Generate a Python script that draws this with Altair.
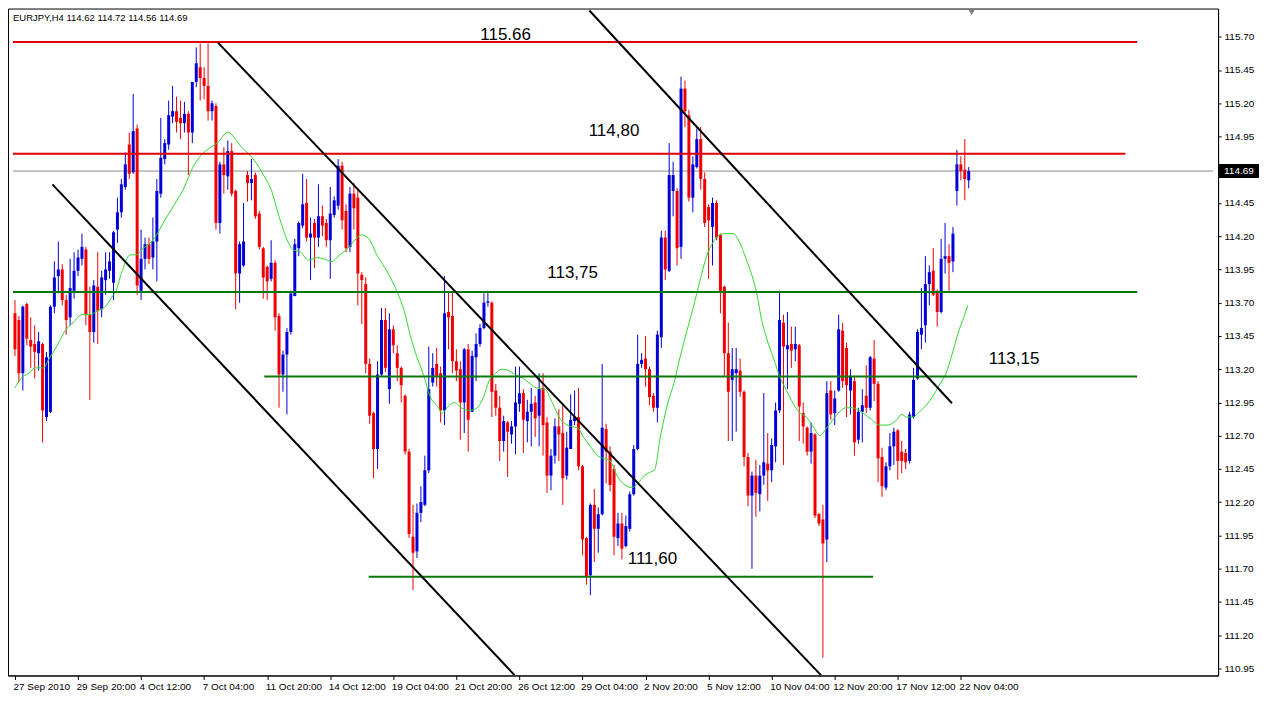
import altair as alt
import pandas as pd

# ---------------- data ----------------
opens = [
    113.62, 113.57, 113.17, 113.69, 113.42, 113.39, 113.32, 113.39, 112.84, 112.88,
    113.67, 113.90, 113.95, 113.72, 113.59, 113.79, 113.94, 114.03, 114.10, 113.61,
    113.48, 113.82, 113.65, 113.87, 113.94, 113.85, 114.25, 114.38, 114.57, 114.89,
    114.68, 115.01, 113.79, 114.03, 114.14, 114.04, 114.16, 114.52, 114.78, 114.89,
    115.10, 115.14, 115.09, 115.05, 115.12, 114.98, 115.36, 115.47, 115.39, 115.33,
    115.14, 115.18, 114.30, 114.74, 114.65, 114.84, 114.54, 113.92, 113.98, 114.66,
    114.60, 114.66, 114.37, 114.11, 113.97, 113.88, 114.00, 113.60, 113.16, 113.31,
    113.48, 113.75, 114.11, 114.28, 114.45, 114.19, 114.30, 114.19, 114.35, 114.30,
    114.17, 114.36, 114.43, 114.73, 114.39, 114.12, 114.52, 114.49, 113.91, 113.84,
    113.24, 112.87, 112.60, 113.16, 113.57, 113.05, 113.50, 113.32, 113.21, 113.00,
    112.58, 111.94, 111.83, 112.12, 112.18, 112.44, 113.10, 113.24, 113.17, 112.89,
    113.63, 113.60, 113.26, 113.20, 112.95, 113.35, 112.88, 113.29, 113.39, 113.51,
    113.70, 113.70, 113.04, 112.91, 112.66, 112.80, 112.71, 112.77, 112.94, 113.02,
    112.81, 112.88, 112.95, 112.85, 113.06, 112.80, 112.40, 112.55, 112.77, 112.72,
    112.40, 112.60, 112.81, 112.84, 112.47, 111.93, 111.65, 112.18, 112.00, 112.11,
    112.75, 112.58, 112.45, 111.93, 112.04, 111.87, 112.00, 112.26, 112.60, 113.24,
    113.28, 113.20, 113.00, 112.91, 113.44, 114.19, 113.94, 114.54, 114.54, 114.12,
    115.31, 115.11, 114.49, 114.72, 114.93, 114.63, 114.42, 114.27, 114.45, 114.21,
    113.82, 113.32, 113.12, 113.17, 113.19, 113.03, 112.54, 112.25, 112.40, 112.26,
    112.40, 112.49, 112.44, 112.62, 112.89, 113.55, 113.35, 113.39, 113.35, 113.38,
    112.87, 112.76, 112.58, 112.71, 112.11, 112.07, 111.92, 113.04, 112.87, 113.04,
    113.49, 113.36, 113.04, 113.11, 112.67, 112.88, 113.00, 112.91, 113.28, 113.09,
    112.54, 112.31, 112.47, 112.62, 112.74, 112.58, 112.57, 112.51, 112.84, 113.13,
    113.46, 113.53, 113.84, 113.94, 113.79, 113.63, 114.03, 114.05, 114.01, 114.54,
    114.74, 114.70, 114.62,
]
highs = [
    113.72, 113.60, 113.68, 113.70, 113.59, 113.53, 113.48, 113.40, 113.33, 113.68,
    114.01, 114.16, 113.99, 113.76, 114.03, 114.08, 114.10, 114.22, 114.12, 113.82,
    113.87, 114.08, 113.94, 114.08, 114.08, 114.24, 114.49, 114.63, 114.83, 114.98,
    115.27, 115.04, 114.25, 114.19, 114.19, 114.34, 114.63, 115.09, 114.93, 115.22,
    115.33, 115.25, 115.22, 115.21, 115.14, 115.36, 115.62, 115.65, 115.47, 115.65,
    115.22, 115.20, 114.76, 114.87, 114.92, 114.90, 114.55, 114.16, 114.45, 114.69,
    114.78, 114.68, 114.39, 114.12, 113.98, 114.17, 114.02, 113.62, 113.34, 113.51,
    113.79, 114.18, 114.31, 114.67, 114.63, 114.34, 114.33, 114.59, 114.43, 114.33,
    114.57, 114.50, 114.78, 114.76, 114.44, 114.57, 114.60, 114.56, 113.93, 113.89,
    113.28, 112.88, 113.26, 113.66, 113.66, 113.62, 113.53, 113.38, 113.22, 113.01,
    112.60, 112.18, 112.19, 112.32, 112.55, 113.37, 113.32, 113.36, 113.22, 113.90,
    113.78, 113.78, 113.35, 113.26, 113.36, 113.39, 113.34, 113.47, 113.54, 113.77,
    113.79, 113.71, 113.09, 113.00, 112.85, 112.81, 112.81, 113.22, 113.22, 113.05,
    112.97, 113.06, 113.00, 113.17, 113.17, 112.84, 112.60, 112.83, 112.90, 112.94,
    112.73, 113.01, 113.04, 113.06, 112.48, 111.94, 112.19, 112.30, 112.16, 113.24,
    112.79, 112.62, 112.48, 112.12, 112.12, 112.10, 112.28, 112.63, 113.46, 113.32,
    113.45, 113.22, 113.02, 113.49, 114.24, 114.24, 114.90, 114.76, 114.56, 115.40,
    115.37, 115.15, 114.80, 115.01, 115.02, 114.68, 114.44, 114.49, 114.47, 114.22,
    113.83, 113.55, 113.36, 113.36, 113.28, 113.04, 112.57, 112.43, 112.52, 112.48,
    113.02, 112.72, 112.68, 112.95, 113.79, 113.61, 113.63, 113.52, 113.52, 113.39,
    112.95, 112.77, 112.80, 112.72, 112.12, 112.18, 113.11, 113.11, 113.04, 113.61,
    113.55, 113.40, 113.20, 113.14, 112.91, 113.05, 113.23, 113.30, 113.42, 113.11,
    112.61, 112.50, 112.72, 112.76, 112.75, 112.66, 112.60, 112.88, 113.21, 113.50,
    113.81, 114.05, 113.98, 114.11, 113.80, 114.18, 114.30, 114.14, 114.27, 114.85,
    114.80, 114.93, 114.72,
]
lows = [
    113.30, 113.10, 113.04, 113.38, 113.21, 113.13, 113.19, 112.65, 112.81, 112.87,
    113.62, 113.77, 113.68, 113.46, 113.53, 113.73, 113.90, 113.98, 113.53, 112.97,
    113.40, 113.39, 113.59, 113.76, 113.88, 113.72, 114.15, 114.34, 114.55, 114.63,
    114.67, 113.76, 113.72, 113.95, 113.99, 113.95, 113.86, 114.49, 114.74, 114.85,
    115.05, 114.98, 114.93, 114.98, 114.66, 114.90, 115.32, 115.22, 115.23, 115.07,
    115.07, 114.25, 114.22, 114.52, 114.55, 114.50, 113.65, 113.70, 113.97, 114.46,
    114.47, 114.33, 114.10, 113.73, 113.72, 113.86, 113.49, 112.91, 113.03, 112.86,
    113.46, 113.75, 114.05, 114.26, 114.16, 113.87, 113.96, 114.12, 114.20, 114.12,
    113.88, 114.34, 114.40, 114.25, 114.08, 114.08, 114.25, 113.68, 113.54, 113.17,
    112.79, 112.38, 112.45, 113.15, 113.18, 112.94, 113.32, 113.11, 112.95, 112.56,
    111.93, 111.54, 111.78, 112.05, 112.17, 112.42, 113.07, 113.07, 112.80, 112.78,
    113.35, 113.17, 113.11, 112.67, 112.72, 112.58, 112.88, 113.11, 113.37, 113.50,
    113.67, 112.84, 112.85, 112.51, 112.58, 112.39, 112.64, 112.56, 112.88, 112.57,
    112.65, 112.62, 112.69, 112.62, 112.55, 112.27, 112.29, 112.49, 112.51, 112.18,
    112.37, 112.60, 112.78, 112.44, 111.80, 111.58, 111.50, 111.75, 111.82, 112.10,
    112.34, 112.28, 111.80, 111.87, 111.77, 111.86, 111.98, 112.25, 112.59, 113.21,
    113.07, 112.93, 112.88, 112.80, 113.36, 113.87, 113.93, 114.35, 113.98, 114.03,
    115.02, 114.46, 114.38, 114.71, 114.55, 114.27, 113.88, 113.98, 114.17, 113.62,
    113.15, 112.66, 112.66, 112.73, 112.99, 112.47, 112.17, 111.70, 112.09, 112.13,
    112.33, 112.21, 112.35, 112.50, 112.87, 112.48, 113.05, 113.21, 113.26, 112.66,
    112.64, 112.55, 112.49, 112.08, 112.02, 111.03, 111.75, 112.82, 112.78, 113.03,
    113.06, 112.84, 112.86, 112.55, 112.64, 112.65, 112.87, 112.89, 112.96, 112.35,
    112.24, 112.29, 112.44, 112.48, 112.37, 112.42, 112.45, 112.49, 112.83, 113.12,
    113.35, 113.40, 113.68, 113.75, 113.52, 113.62, 113.92, 113.79, 113.93, 114.43,
    114.62, 114.47, 114.56,
]
closes = [
    113.35, 113.17, 113.67, 113.43, 113.37, 113.33, 113.41, 112.89, 113.29, 113.67,
    113.89, 113.95, 113.72, 113.57, 113.81, 113.94, 114.04, 114.12, 113.61, 113.48,
    113.83, 113.64, 113.89, 113.95, 114.01, 114.23, 114.38, 114.59, 114.74, 114.67,
    114.99, 113.83, 114.03, 114.14, 114.03, 114.16, 114.54, 114.79, 114.90, 115.11,
    115.14, 115.06, 115.05, 115.12, 114.98, 115.36, 115.50, 115.39, 115.33, 115.14,
    115.20, 114.30, 114.74, 114.66, 114.84, 114.52, 113.92, 114.14, 114.16, 114.60,
    114.63, 114.35, 114.12, 113.89, 113.86, 114.00, 113.59, 113.16, 113.31, 113.48,
    113.77, 114.14, 114.30, 114.44, 114.19, 114.22, 114.19, 114.35, 114.28, 114.17,
    114.37, 114.47, 114.73, 114.32, 114.11, 114.52, 114.41, 113.92, 113.87, 113.24,
    112.85, 112.60, 113.16, 113.57, 113.21, 113.50, 113.38, 113.21, 113.08, 112.58,
    111.96, 111.82, 112.12, 112.20, 112.44, 113.05, 113.21, 113.15, 112.89, 113.62,
    113.59, 113.26, 113.19, 112.95, 113.35, 112.82, 113.30, 113.39, 113.51, 113.70,
    113.71, 113.03, 112.91, 112.66, 112.81, 112.73, 112.77, 112.95, 113.02, 112.82,
    112.88, 112.94, 112.83, 113.05, 112.78, 112.40, 112.55, 112.77, 112.71, 112.38,
    112.61, 112.82, 112.84, 112.47, 111.92, 111.64, 112.18, 112.00, 112.11, 112.76,
    112.58, 112.33, 111.94, 112.04, 111.85, 112.02, 112.26, 112.60, 113.24, 113.27,
    113.20, 112.99, 112.91, 113.46, 114.19, 113.95, 114.66, 114.66, 114.11, 115.31,
    115.14, 114.49, 114.74, 114.93, 114.63, 114.30, 114.32, 114.45, 114.19, 113.78,
    113.32, 113.03, 113.20, 113.20, 113.03, 112.54, 112.25, 112.40, 112.27, 112.40,
    112.50, 112.44, 112.63, 112.89, 113.57, 113.37, 113.38, 113.34, 113.39, 112.92,
    112.77, 112.58, 112.72, 112.10, 112.04, 111.89, 113.02, 112.86, 112.98, 113.50,
    113.11, 113.08, 113.15, 112.65, 112.88, 112.93, 112.91, 113.29, 113.09, 112.53,
    112.32, 112.47, 112.62, 112.73, 112.51, 112.51, 112.50, 112.86, 113.12, 113.48,
    113.51, 113.84, 113.93, 113.76, 113.63, 114.03, 114.05, 114.00, 114.22, 114.74,
    114.69, 114.63, 114.69,
]

# moving average: bar position, value
ma_bars = [
    0, 1.5, 3.5, 5.25, 7.25, 8.5, 10.75, 12.75, 14.75, 17, 19, 21, 23.25, 24.75, 25.5, 27,
    29.25, 30.75, 32.25, 35.5, 38, 40.5, 43, 45, 47.25, 49.75, 51.25, 54, 57.5, 60.75,
    63.25, 65, 67, 69.25, 70.5, 72.5, 74.5, 76.75, 78.25, 80.5, 82, 84.5, 86.25, 87.75,
    89.5, 92, 94.5, 97, 98.75, 100.25, 102, 103.75, 105.25, 107.5, 108.25, 110.25, 111.5,
    113.25, 115.25, 117.25, 119, 120.25, 122, 123.5, 125.25, 127, 129, 130.75, 132.25,
    134.5, 136, 138.5, 141, 142.75, 144.25, 146, 147.75, 149.25, 151, 152.75, 154.75,
    156.5, 158, 159.75, 161.5, 162.25, 163.75, 165.5, 167.25, 168.75, 170.5, 172.25,
    173.75, 175.5, 177.25, 178.75, 180.5, 182.25, 183.75, 185.5, 187.25, 188.5, 189.25,
    190.75, 192.5, 194.25, 195.75, 197.5, 199.25, 200.75, 202.5, 204.25, 205.75, 207.5,
    209.25, 210.75, 212.5, 214.25, 217, 219.5, 221.5, 223.75, 225, 226.25, 227.75, 229.5,
    231.25, 232.75, 234.5, 236.25, 237.75, 239.5, 240.75, 241.75,
]
ma_values = [
    113.06, 113.13, 113.17, 113.21, 113.21, 113.27, 113.38, 113.49, 113.55, 113.61, 113.61,
    113.64, 113.68, 113.75, 113.78, 113.92, 114.06, 114.06, 114.10, 114.19, 114.32, 114.44,
    114.57, 114.71, 114.81, 114.87, 114.90, 114.98, 114.87, 114.77, 114.65, 114.55, 114.35,
    114.16, 114.10, 114.08, 114.02, 114.04, 114.03, 114.01, 114.05, 114.11, 114.17, 114.21,
    114.19, 114.05, 113.93, 113.78, 113.64, 113.46, 113.29, 113.15, 113.00, 112.91, 112.87,
    112.93, 112.95, 112.91, 112.89, 112.91, 113.00, 113.11, 113.17, 113.20, 113.19, 113.16,
    113.13, 113.09, 113.06, 113.05, 112.97, 112.82, 112.77, 112.76, 112.69, 112.62, 112.55,
    112.53, 112.51, 112.40, 112.33, 112.31, 112.34, 112.40, 112.43, 112.44, 112.69, 112.93,
    113.10, 113.29, 113.49, 113.68, 113.86, 114.05, 114.16, 114.21, 114.22, 114.22, 114.16,
    114.03, 113.88, 113.73, 113.60, 113.43, 113.28, 113.13, 113.04, 112.94, 112.87, 112.84,
    112.77, 112.70, 112.75, 112.82, 112.88, 112.91, 112.91, 112.89, 112.83, 112.78, 112.78,
    112.82, 112.86, 112.84, 112.84, 112.88, 112.93, 112.99, 113.08, 113.17, 113.31, 113.49,
    113.59, 113.68,
]

date_labels = [
    "27 Sep 2010", "29 Sep 20:00", "4 Oct 12:00", "7 Oct 04:00", "11 Oct 20:00",
    "14 Oct 12:00", "19 Oct 04:00", "21 Oct 20:00", "26 Oct 12:00", "29 Oct 04:00",
    "2 Nov 20:00", "5 Nov 12:00", "10 Nov 04:00", "12 Nov 20:00", "17 Nov 12:00",
    "22 Nov 04:00",
]
label_step = 16

price_ticks = [
    115.70, 115.45, 115.20, 114.95, 114.45, 114.20, 113.95, 113.70, 113.45, 113.20,
    112.95, 112.70, 112.45, 112.20, 111.95, 111.70, 111.45, 111.20, 110.95,
]

# horizontal levels drawn on the chart
level_prices = [115.66, 114.82, 113.78, 113.145, 111.64]
level_from = [-0.5, -0.5, -0.5, 63.25, 89.75]
level_to = [284.75, 281.75, 284.75, 284.75, 217.75]
level_kind = ["resistance", "resistance", "support", "support", "support"]

# channel / trend lines
trend_id = ["A", "A", "B", "B", "C", "C"]
trend_bar = [9.5, 126.75, 51.5, 204.5, 145.75, 237.75]
trend_price = [114.59, 110.90, 115.656, 110.90, 115.897, 112.944]

# level annotations
note_text = ["115.66", "114,80", "113,75", "113,15", "111,60"]
note_bar = [124.5, 152.0, 141.5, 253.5, 161.75]
note_price = [115.71, 114.99, 113.92, 113.28, 111.77]

symbol_title = "EURJPY,H4  114.62 114.72 114.56 114.69"
shift_marker_bar = [242.75]

# ---------------- chart ----------------
W, H = 1212, 668
XMIN, XMAX = -0.5, 304.0
YMIN, YMAX = 110.897, 115.912
BLUE = "#0000d8"
RED = "#f00000"
LEVEL_RED = "#e00000"
LEVEL_GREEN = "#087808"
FONT = "Liberation Sans"

xscale = alt.Scale(domain=[XMIN, XMAX], nice=False, zero=False)
yscale = alt.Scale(domain=[YMIN, YMAX], nice=False, zero=False)

label_array = "[" + ",".join("'" + s + "'" for s in date_labels) + "]"
x_axis = alt.Axis(
    values=[i * label_step for i in range(len(date_labels))],
    labelExpr=label_array + "[round(datum.value / %d)]" % label_step,
    labelAlign="left", labelBaseline="top", labelPadding=2, labelOffset=-2,
    tickSize=4, tickColor="black", domainColor="black", labelColor="black",
    labelFont=FONT, labelFontSize=10, grid=False, labelOverlap=False,
    labelFlush=False, labelBound=False, title=None,
)
y_axis = alt.Axis(
    orient="right", values=price_ticks, format=".2f",
    labelFont=FONT, labelFontSize=10, labelColor="black", tickSize=3,
    tickColor="black", domainColor="black", labelPadding=3, grid=False,
    labelOverlap=False, labelFlush=False, labelBound=False, title=None,
)


def X(field):
    return alt.X(field, scale=xscale, axis=x_axis, title=None)


def Y(field):
    return alt.Y(field, scale=yscale, axis=y_axis, title=None)


candles = pd.DataFrame({
    "bar": list(range(len(opens))),
    "open": opens, "high": highs, "low": lows, "close": closes,
})
candles["dir"] = ["up" if c >= o else "down" for o, c in zip(opens, closes)]
dir_scale = alt.Scale(domain=["up", "down"], range=[BLUE, RED])

last_df = pd.DataFrame({
    "p": [closes[-1]], "x0": [XMIN], "x1": [XMAX],
    "label": ["%.2f" % closes[-1]],
})

price_line = alt.Chart(last_df).mark_rule(color="#8c8c8c", strokeWidth=1).encode(
    x=X("x0:Q"), x2="x1:Q", y=Y("p:Q"),
)

wicks = alt.Chart(candles).mark_rule(strokeWidth=1).encode(
    x=X("bar:Q"), y=Y("low:Q"), y2="high:Q",
    color=alt.Color("dir:N", scale=dir_scale, legend=None),
)
bodies = alt.Chart(candles).mark_bar(size=3).encode(
    x=X("bar:Q"), y=Y("open:Q"), y2="close:Q",
    color=alt.Color("dir:N", scale=dir_scale, legend=None),
)

ma_df = pd.DataFrame({"bar": ma_bars, "ma": ma_values})
ma_line = alt.Chart(ma_df).mark_line(color="#2fd82f", strokeWidth=1, interpolate="monotone", clip=True).encode(
    x=X("bar:Q"), y=Y("ma:Q"),
)

levels_df = pd.DataFrame({"p": level_prices, "x0": level_from, "x1": level_to, "kind": level_kind})
res_levels = alt.Chart(levels_df).transform_filter(alt.datum.kind == "resistance").mark_rule(
    strokeWidth=2, color=LEVEL_RED).encode(x=X("x0:Q"), x2="x1:Q", y=Y("p:Q"))
sup_levels = alt.Chart(levels_df).transform_filter(alt.datum.kind == "support").mark_rule(
    strokeWidth=2, color=LEVEL_GREEN).encode(x=X("x0:Q"), x2="x1:Q", y=Y("p:Q"))

trend_df = pd.DataFrame({"id": trend_id, "bar": trend_bar, "p": trend_price})
trends = alt.Chart(trend_df).mark_line(color="black", strokeWidth=2, clip=True).encode(
    x=X("bar:Q"), y=Y("p:Q"), detail="id:N",
)

notes_df = pd.DataFrame({"t": note_text, "bar": note_bar, "p": note_price})
notes = alt.Chart(notes_df).mark_text(font=FONT, fontSize=17, color="black", baseline="middle", align="center").encode(
    x=X("bar:Q"), y=Y("p:Q"), text="t:N",
)

box = alt.Chart(last_df).mark_rect(color="black", yOffset=-7, y2Offset=7).encode(
    x=alt.value(W + 1), x2=alt.value(W + 41), y=Y("p:Q"), y2="p:Q",
)
box_text = alt.Chart(last_df).mark_text(color="white", font=FONT, fontSize=10, align="left", baseline="middle").encode(
    x=alt.value(W + 6), y=Y("p:Q"), text="label:N",
)

title_df = pd.DataFrame({"t": [symbol_title]})
title_text = alt.Chart(title_df).mark_text(font=FONT, fontSize=9.5, color="black", align="left", baseline="middle").encode(
    x=alt.value(5), y=alt.value(9), text="t:N",
)

marker_df = pd.DataFrame({"bar": shift_marker_bar})
marker = alt.Chart(marker_df).mark_point(shape="triangle-down", filled=True, color="#808080", opacity=1, size=40).encode(
    x=X("bar:Q"), y=alt.value(4),
)

chart = alt.layer(
    price_line, wicks, bodies, ma_line, res_levels, sup_levels, trends, notes,
    box, box_text, title_text, marker,
).properties(
    width=W, height=H, padding={"left": 0, "top": 0, "right": 0, "bottom": 0},
    background="white",
).configure_view(stroke="black", strokeWidth=1)

chart.save("out.html", embed_options={"renderer": "svg", "actions": False})
